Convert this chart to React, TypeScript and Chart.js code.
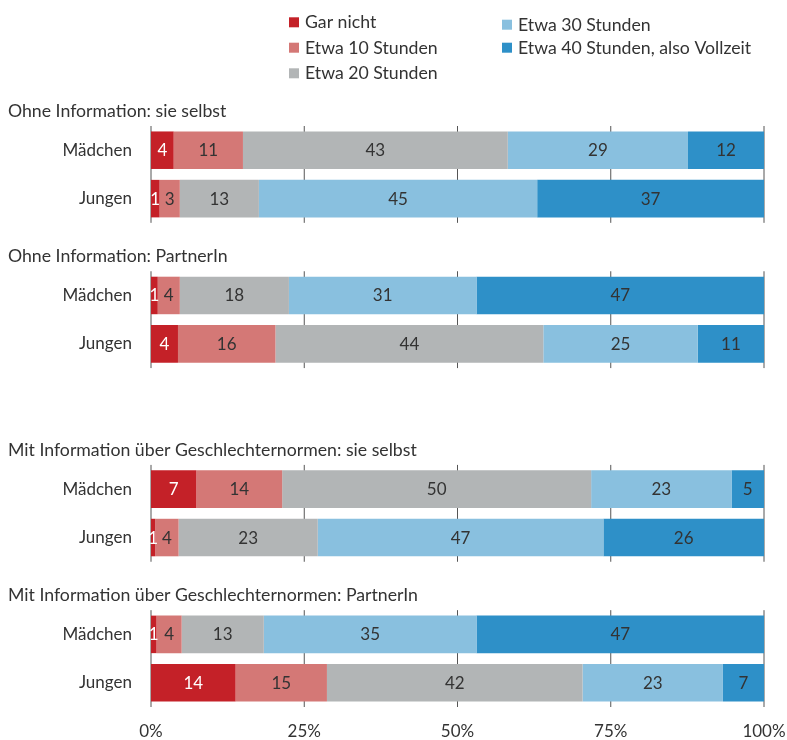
import React, { useEffect, useRef } from "react";
import { Chart, registerables } from "chart.js";

Chart.register(...registerables);

// ---------- data ----------
const groupTitles = [
  "Ohne Information: sie selbst",
  "Ohne Information: PartnerIn",
  "Mit Information über Geschlechternormen: sie selbst",
  "Mit Information über Geschlechternormen: PartnerIn",
];
const genders = ["Mädchen", "Jungen"];
const seriesLabels = [
  "Gar nicht",
  "Etwa 10 Stunden",
  "Etwa 20 Stunden",
  "Etwa 30 Stunden",
  "Etwa 40 Stunden, also Vollzeit",
];
// order: group1 Mädchen, group1 Jungen, group2 Mädchen, group2 Jungen, ...
const garNicht = [3.7, 1.4, 1.1, 4.4, 7.4, 0.7, 0.9, 13.8];
const etwa10 = [11.3, 3.3, 3.6, 15.9, 14.0, 3.8, 4.1, 14.9];
const etwa20 = [43.2, 12.9, 17.8, 43.7, 50.4, 22.7, 13.4, 41.7];
const etwa30 = [29.4, 45.4, 30.6, 25.2, 22.9, 46.6, 34.7, 22.9];
const etwa40 = [12.4, 37.0, 46.9, 10.8, 5.3, 26.2, 46.9, 6.7];
const xTickValues = [0, 25, 50, 75, 100];

// ---------- styles / layout ----------
const seriesColors = ["#c42128", "#d47876", "#b2b5b6", "#89c0df", "#2e90c8"];
const valueTextColors = ["#ffffff", "#333333", "#333333", "#333333", "#333333"];
const groupGapRows = [0, 1, 2, 1];
const legendSlots = [
  { x: 289, y: 22.3 },
  { x: 289, y: 47.7 },
  { x: 289, y: 73.3 },
  { x: 502, y: 24.7 },
  { x: 502, y: 47.7 },
];
const FONT = "Lato, 'Noto Sans', sans-serif";
const FONT_SIZE = 17;
const TITLE_SIZE = 17.7;
const TEXT = "#333333";

const allSeries = [garNicht, etwa10, etwa20, etwa30, etwa40];

const rowLabels: string[] = [];
const rowSource: (number | null)[] = [];
const groupFirstRow: number[] = [];
groupTitles.forEach((_, g) => {
  for (let k = 0; k < groupGapRows[g]; k++) {
    rowLabels.push("");
    rowSource.push(null);
  }
  groupFirstRow.push(rowLabels.length);
  genders.forEach((gen, s) => {
    rowLabels.push(gen);
    rowSource.push(g * genders.length + s);
  });
});

const overlayPlugin = {
  id: "overlay",
  beforeDatasetsDraw(chart: any) {
    const ctx = chart.ctx;
    const xs = chart.scales.x;
    const ys = chart.scales.y;
    const half = (ys.getPixelForValue(1) - ys.getPixelForValue(0)) / 2;
    ctx.save();
    ctx.strokeStyle = "#555555";
    ctx.lineWidth = 1;
    groupFirstRow.forEach((r) => {
      const top = ys.getPixelForValue(r) - half;
      const bottom = ys.getPixelForValue(r + genders.length - 1) + half;
      xTickValues.forEach((v) => {
        const px = xs.getPixelForValue(v);
        ctx.beginPath();
        ctx.moveTo(px, top);
        ctx.lineTo(px, bottom);
        ctx.stroke();
      });
    });
    ctx.restore();
  },
  afterDatasetsDraw(chart: any) {
    const ctx = chart.ctx;
    const ys = chart.scales.y;
    ctx.save();
    ctx.textBaseline = "alphabetic";
    // value labels
    ctx.font = `${FONT_SIZE}px ${FONT}`;
    ctx.textAlign = "center";
    chart.data.datasets.forEach((ds: any, di: number) => {
      const meta = chart.getDatasetMeta(di);
      meta.data.forEach((el: any, i: number) => {
        const v = ds.data[i];
        if (v == null) return;
        ctx.fillStyle = valueTextColors[di];
        ctx.fillText(String(Math.round(v)), (el.x + el.base) / 2, el.y + 6);
      });
    });
    // group headings
    ctx.font = `${TITLE_SIZE}px ${FONT}`;
    ctx.textAlign = "left";
    ctx.fillStyle = TEXT;
    groupFirstRow.forEach((r, g) => {
      ctx.fillText(groupTitles[g], 8, ys.getPixelForValue(r) - 33);
    });
    // legend
    seriesLabels.forEach((lab, i) => {
      const s = legendSlots[i];
      ctx.fillStyle = seriesColors[i];
      ctx.fillRect(s.x, s.y - 5, 10, 10);
      ctx.fillStyle = TEXT;
      ctx.fillText(lab, s.x + 16, s.y + 6);
    });
    ctx.restore();
  },
};

export default function App() {
  const ref = useRef<HTMLCanvasElement | null>(null);
  useEffect(() => {
    if (!ref.current) return;
    const chart = new Chart(ref.current, {
      type: "bar",
      data: {
        labels: rowLabels,
        datasets: allSeries.map((vals, i) => ({
          label: seriesLabels[i],
          data: rowSource.map((src) => (src === null ? null : vals[src])),
          backgroundColor: seriesColors[i],
          borderWidth: 0,
          barPercentage: 0.775,
          categoryPercentage: 1,
        })),
      },
      options: {
        indexAxis: "y",
        responsive: false,
        animation: false,
        events: [],
        layout: { padding: { top: 126, right: 23, left: 0, bottom: 0 } },
        plugins: {
          legend: { display: false },
          tooltip: { enabled: false },
          title: { display: false },
        },
        scales: {
          x: {
            stacked: true,
            min: 0,
            max: 100,
            position: "bottom",
            grid: { display: false, drawTicks: false },
            border: { display: false },
            ticks: {
              stepSize: 25,
              padding: 14,
              color: TEXT,
              font: { family: FONT, size: FONT_SIZE },
              callback: (v: any) => `${v}%`,
            },
            afterFit: (scale: any) => {
              scale.height = 33;
              scale.paddingLeft = 0;
              scale.paddingRight = 0;
            },
          },
          y: {
            stacked: true,
            grid: { display: false, drawTicks: false },
            border: { display: false },
            ticks: {
              padding: 19,
              color: TEXT,
              font: { family: FONT, size: FONT_SIZE },
              autoSkip: false,
            },
            afterFit: (scale: any) => {
              scale.width = 151;
            },
          },
        },
      },
      plugins: [overlayPlugin],
    } as any);
    return () => chart.destroy();
  }, []);
  return (
    <div style={{ position: "absolute", left: 0, top: 0, width: 787, height: 740, background: "#fff" }}>
      <canvas ref={ref} width={787} height={740} style={{ display: "block" }} />
    </div>
  );
}
